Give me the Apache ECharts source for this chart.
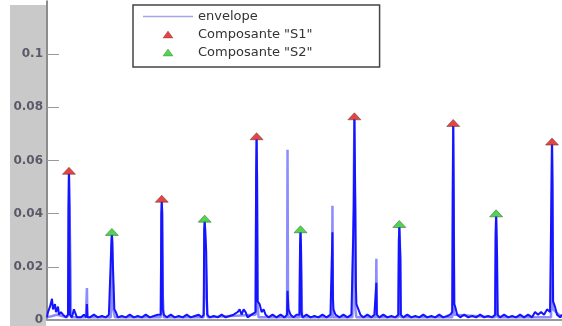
<!DOCTYPE html>
<html>
<head>
<meta charset="utf-8">
<style>
  html, body { margin: 0; padding: 0; background: #fff; }
  #chart { width: 562px; height: 326px; }
</style>
<script src="https://cdn.jsdelivr.net/npm/echarts@6/dist/echarts.min.js"></script>
</head>
<body>
<div id="chart"></div>
<script>
// y ticks
var yTicks = [0, 0.02, 0.04, 0.06, 0.08, 0.1];

// S1 / S2 peak positions (s) and amplitudes
var s1Times = [0.22, 1.15, 2.10, 3.08, 4.07, 5.06];
var s1Values = [0.055, 0.0445, 0.068, 0.0755, 0.073, 0.066];
var s2Times = [0.65, 1.58, 2.54, 3.53, 4.50];
var s2Values = [0.032, 0.037, 0.033, 0.035, 0.039];

// dark trace [t, amplitude]
var signal = [
    [0.00,0.001],[0.01,0.003],[0.03,0.005],[0.05,0.008],[0.06,0.004],[0.08,0.006],[0.09,0.003],[0.11,0.005],[0.12,0.002],[0.14,0.003],[0.16,0.002],[0.19,0.001],
    [0.21,0.002],[0.215,0.042],[0.22,0.055],[0.225,0.042],[0.23,0.002],[0.25,0.001],[0.27,0.004],[0.28,0.003],[0.30,0.001],[0.34,0.001],[0.37,0.002],
    [0.395,0.001],[0.40,0.006],[0.405,0.001],[0.43,0.001],[0.47,0.002],[0.51,0.001],[0.55,0.0015],[0.59,0.001],[0.62,0.002],
    [0.64,0.002],[0.645,0.029],[0.65,0.032],[0.655,0.029],[0.66,0.021],[0.67,0.021],[0.675,0.004],[0.69,0.003],[0.71,0.001],[0.75,0.0015],[0.79,0.001],[0.83,0.002],[0.87,0.001],[0.91,0.0015],[0.95,0.001],[0.99,0.002],[1.03,0.001],[1.07,0.0015],[1.11,0.002],
    [1.14,0.002],[1.145,0.040],[1.15,0.0445],[1.155,0.040],[1.16,0.004],[1.17,0.002],[1.20,0.001],[1.24,0.002],[1.28,0.001],[1.32,0.0015],[1.36,0.001],[1.40,0.002],[1.44,0.001],[1.48,0.0015],[1.52,0.002],[1.55,0.001],
    [1.57,0.002],[1.575,0.034],[1.58,0.037],[1.585,0.034],[1.595,0.026],[1.60,0.026],[1.605,0.002],[1.63,0.001],[1.67,0.0015],[1.71,0.001],[1.75,0.002],[1.79,0.001],[1.83,0.0015],[1.87,0.002],[1.91,0.003],[1.93,0.004],[1.95,0.002],[1.97,0.004],[1.99,0.003],[2.01,0.001],[2.05,0.002],
    [2.09,0.003],[2.095,0.054],[2.10,0.068],[2.105,0.054],[2.11,0.007],[2.13,0.006],[2.15,0.003],[2.17,0.004],[2.19,0.002],[2.22,0.001],[2.26,0.002],[2.30,0.001],[2.34,0.002],[2.38,0.001],
    [2.405,0.002],[2.41,0.011],[2.42,0.004],[2.44,0.002],[2.47,0.001],[2.50,0.002],
    [2.53,0.002],[2.535,0.028],[2.54,0.033],[2.545,0.028],[2.55,0.003],[2.56,0.001],[2.60,0.002],[2.64,0.001],[2.68,0.0015],[2.72,0.001],[2.76,0.002],[2.80,0.001],[2.84,0.002],
    [2.855,0.002],[2.86,0.033],[2.865,0.008],[2.87,0.004],[2.89,0.002],[2.93,0.001],[2.97,0.002],[3.01,0.001],[3.05,0.002],
    [3.07,0.002],[3.075,0.042],[3.08,0.0755],[3.09,0.042],[3.095,0.013],[3.10,0.006],[3.12,0.004],[3.14,0.002],[3.17,0.001],[3.21,0.002],[3.25,0.001],[3.28,0.002],
    [3.295,0.002],[3.30,0.014],[3.305,0.002],[3.33,0.001],[3.37,0.002],[3.41,0.001],[3.45,0.0015],[3.49,0.001],
    [3.52,0.002],[3.525,0.030],[3.53,0.035],[3.535,0.030],[3.54,0.023],[3.545,0.002],[3.57,0.001],[3.61,0.002],[3.65,0.001],[3.69,0.0015],[3.73,0.001],[3.77,0.002],[3.81,0.001],[3.85,0.0015],[3.89,0.001],[3.93,0.002],[3.97,0.001],[4.01,0.0015],[4.04,0.002],
    [4.06,0.003],[4.065,0.047],[4.07,0.073],[4.075,0.047],[4.08,0.006],[4.09,0.005],[4.11,0.002],[4.14,0.001],[4.18,0.002],[4.22,0.001],[4.26,0.0015],[4.30,0.001],[4.34,0.002],[4.38,0.001],[4.42,0.0015],[4.46,0.001],
    [4.49,0.002],[4.495,0.032],[4.50,0.039],[4.505,0.032],[4.51,0.023],[4.515,0.002],[4.54,0.001],[4.58,0.002],[4.62,0.001],[4.66,0.0015],[4.70,0.001],[4.74,0.002],[4.78,0.001],[4.82,0.002],[4.86,0.001],[4.89,0.003],[4.92,0.002],[4.95,0.003],[4.98,0.002],[5.01,0.004],[5.04,0.003],
    [5.055,0.051],[5.06,0.066],[5.065,0.051],[5.07,0.007],[5.09,0.005],[5.11,0.002],[5.14,0.001],[5.16,0.002]
];

// light trace (envelope)
var envelope = [
    [0.00,0.001],[0.10,0.002],[0.20,0.001],[0.215,0.002],[0.22,0.055],[0.235,0.019],[0.24,0.001],
    [0.39,0.001],[0.40,0.012],[0.405,0.001],
    [0.64,0.001],[0.645,0.020],[0.65,0.032],[0.665,0.004],[0.68,0.001],
    [1.14,0.001],[1.15,0.0445],[1.16,0.009],[1.17,0.001],
    [1.57,0.001],[1.575,0.009],[1.58,0.037],[1.60,0.008],[1.61,0.001],
    [2.09,0.002],[2.10,0.068],[2.11,0.005],[2.12,0.001],
    [2.405,0.001],[2.41,0.064],[2.415,0.001],
    [2.53,0.001],[2.54,0.033],[2.55,0.014],[2.555,0.001],
    [2.855,0.001],[2.86,0.043],[2.865,0.001],
    [3.06,0.001],[3.065,0.0205],[3.08,0.0755],[3.09,0.004],[3.10,0.001],
    [3.295,0.001],[3.30,0.023],[3.305,0.001],
    [3.52,0.001],[3.53,0.035],[3.54,0.023],[3.545,0.001],
    [4.06,0.001],[4.065,0.0075],[4.07,0.073],[4.08,0.002],
    [4.49,0.001],[4.495,0.023],[4.50,0.039],[4.51,0.008],[4.515,0.001],
    [5.05,0.001],[5.06,0.066],[5.07,0.004],[5.16,0.001]
];

function zipPoints(xs, ys){
    var out = [];
    for(var i = 0; i < xs.length; i++){
        out.push([xs[i], ys[i]]);
    }
    return out;
}

var triIcon = 'path://M5,0 L10,7 L0,7 Z';
var lineIcon = 'path://M0,0 L50,0 L50,1.4 L0,1.4 Z';

var myChart = echarts.init(document.getElementById('chart'));
var option = {
    backgroundColor: '#fff',
    animation: false,
    textStyle: { fontFamily: 'Liberation Sans' },
    graphic: [{
        type: 'rect',
        z: -1,
        shape: { x: 10, y: 5, width: 36, height: 321 },
        style: { fill: '#c9c9c9' }
    }],
    grid: {
        left: 47,
        right: 0,
        top: 1,
        bottom: 4
    },
    legend: {
        orient: 'vertical',
        left: 133,
        top: 5,
        padding: [5, 67, 8, 10],
        itemGap: 5,
        itemWidth: 50,
        itemHeight: 7,
        symbolKeepAspect: true,
        borderColor: '#444',
        borderWidth: 1.5,
        backgroundColor: '#fff',
        textStyle: { fontSize: 13, color: '#333', fontFamily: 'DejaVu Sans' },
        data: [
            { name: 'envelope', icon: lineIcon, itemStyle: { color: '#a4a4ee', borderWidth: 0 } },
            { name: 'Composante "S1"', icon: triIcon, itemStyle: { borderWidth: 0.4 } },
            { name: 'Composante "S2"', icon: triIcon, itemStyle: { borderWidth: 0.4 } }
        ]
    },
    xAxis: {
        type: 'value',
        min: 0,
        max: 5.16,
        axisLine: { lineStyle: { color: '#999', width: 2 } },
        axisTick: { show: false },
        axisLabel: { show: false },
        splitLine: { show: false }
    },
    yAxis: {
        type: 'value',
        min: 0,
        max: 0.12,
        interval: 0.02,
        axisLine: { show: true, lineStyle: { color: '#666', width: 1.5 } },
        axisTick: { show: true, inside: true, length: 12, lineStyle: { color: '#999' } },
        axisLabel: {
            showMaxLabel: false,
            margin: 4,
            color: '#5a5a68',
            fontSize: 12,
            fontWeight: 'bold',
            fontFamily: 'DejaVu Sans',
            formatter: function(v){
                var r = Math.round(v * 100) / 100;
                return yTicks.indexOf(r) >= 0 ? String(r) : '';
            }
        },
        splitLine: { show: false }
    },
    series: [{
        name: 'envelope',
        type: 'line',
        data: envelope,
        symbol: 'none',
        z: 2,
        lineStyle: { color: '#8c8cff', width: 2.5 },
        itemStyle: { color: '#a4a4ee' }
    }, {
        name: 'signal',
        type: 'line',
        data: signal,
        symbol: 'none',
        z: 3,
        lineStyle: { color: '#1414ff', width: 2 }
    }, {
        name: 'Composante "S1"',
        type: 'scatter',
        data: zipPoints(s1Times, s1Values),
        symbol: 'triangle',
        symbolSize: [13, 7],
        symbolOffset: [0, -3],
        z: 5,
        itemStyle: { color: '#e01414', borderColor: '#553333', borderWidth: 0.6 }
    }, {
        name: 'Composante "S2"',
        type: 'scatter',
        data: zipPoints(s2Times, s2Values),
        symbol: 'triangle',
        symbolSize: [13, 7],
        symbolOffset: [0, -3],
        z: 5,
        itemStyle: { color: '#22cc22', borderColor: '#335533', borderWidth: 0.6 }
    }]
};
myChart.setOption(option);
</script>
</body>
</html>
